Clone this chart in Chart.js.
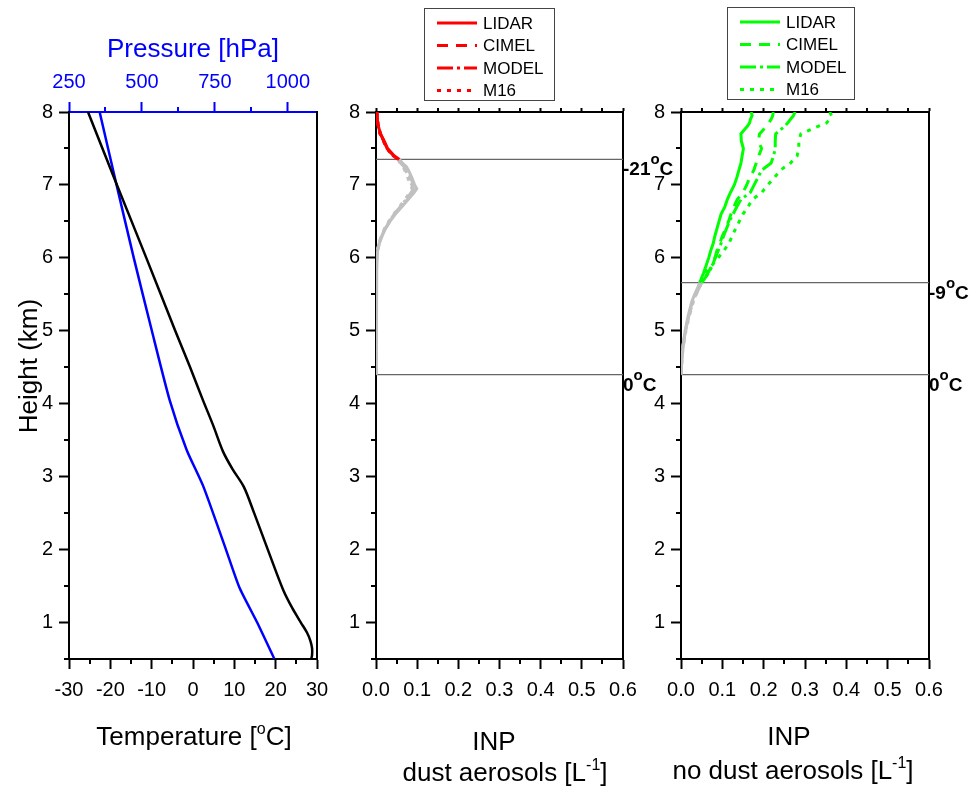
<!DOCTYPE html>
<html>
<head>
<meta charset="utf-8">
<script src="https://cdn.jsdelivr.net/npm/chart.js@4.4.1/dist/chart.umd.min.js"></script>
<style>
  html, body { margin: 0; padding: 0; background: #fff; }
  #wrap { position: relative; width: 969px; height: 789px; }
  #wrap canvas { position: absolute; left: 0; top: 0; }
</style>
</head>
<body>
<div id="wrap">
  <canvas id="profile" width="969" height="789"></canvas>
  <canvas id="dust" width="969" height="789"></canvas>
  <canvas id="nodust" width="969" height="789"></canvas>
</div>
<script>
// tick labels
const heightTicks = [1, 2, 3, 4, 5, 6, 7, 8];
const tempTicks = [-30, -20, -10, 0, 10, 20, 30];
const pressureTicks = [250, 500, 750, 1000];
const inpTicks = [0, 0.1, 0.2, 0.3, 0.4, 0.5, 0.6];

// left panel: temperature and pressure profiles
const tempHeight = [8.0, 7.0, 6.0, 5.0, 4.5, 4.05, 3.7, 3.34, 3.1, 2.86, 2.5, 2.0, 1.45, 1.2, 1.0, 0.86, 0.75, 0.65, 0.55, 0.5];
const temperature = [-25.4, -18.4, -11.3, -4.3, -0.7, 2.4, 4.9, 7.3, 9.6, 12.3, 14.8, 18.1, 21.8, 24.0, 26.1, 27.6, 28.4, 28.8, 28.8, 28.6];
const pressHeight = [8.0, 7.0, 6.0, 5.0, 4.05, 3.37, 2.86, 2.0, 1.48, 1.0, 0.5];
const pressure = [355, 413, 472, 534, 595, 653, 711, 788, 834, 895, 954];

// INP profiles, dust aerosols
const methods = ['LIDAR', 'CIMEL', 'MODEL', 'M16'];
const dustHeight = [8.0, 7.9, 7.8, 7.7, 7.6, 7.5, 7.4, 7.35, 7.3, 7.25, 7.2, 7.1, 7.0, 6.95, 6.9, 6.8, 6.7, 6.6, 6.5, 6.4, 6.3, 6.2, 6.1, 6.0, 5.8, 5.6, 5.2, 4.8, 4.4];
const dustLidar = [0.002, 0.003, 0.006, 0.011, 0.020, 0.028, 0.044, 0.057, 0.064, 0.074, 0.079, 0.087, 0.094, 0.099, 0.093, 0.078, 0.063, 0.047, 0.034, 0.023, 0.015, 0.008, 0.004, 0.002, 0.001, 0.001, 0.0005, 0.0002, 0];
const dustCimel = [0.002, 0.003, 0.006, 0.011, 0.019, 0.027, 0.043, 0.056, 0.062, 0.071, 0.076, 0.084, 0.091, 0.096, 0.090, 0.076, 0.061, 0.046, 0.033, 0.022, 0.014, 0.008, 0.004, 0.002, 0.001, 0.001, 0.0005, 0.0002, 0];
const dustModel = [0.002, 0.003, 0.006, 0.010, 0.019, 0.027, 0.042, 0.055, 0.060, 0.068, 0.072, 0.080, 0.087, 0.091, 0.086, 0.073, 0.059, 0.044, 0.032, 0.021, 0.014, 0.007, 0.004, 0.002, 0.001, 0.001, 0.0005, 0.0002, 0];
const dustM16 = [0.002, 0.003, 0.005, 0.010, 0.018, 0.026, 0.041, 0.054, 0.058, 0.065, 0.070, 0.077, 0.084, 0.088, 0.083, 0.070, 0.057, 0.043, 0.031, 0.021, 0.013, 0.007, 0.003, 0.002, 0.001, 0.0005, 0.0003, 0.0001, 0];
const dustIsoHeight = [7.35, 4.4];
const dustIsoLabel = ['-21', '0'];

// INP profiles, no dust aerosols
const noDustHeight = [8.0, 7.95, 7.9, 7.85, 7.8, 7.7, 7.6, 7.5, 7.4, 7.3, 7.2, 7.1, 7.0, 6.9, 6.8, 6.7, 6.6, 6.5, 6.4, 6.3, 6.2, 6.1, 6.0, 5.9, 5.8, 5.7, 5.66, 5.6, 5.5, 5.4, 5.2, 5.0, 4.8, 4.6, 4.4];
const noDustLidar = [0.170, 0.172, 0.168, 0.166, 0.160, 0.145, 0.146, 0.151, 0.148, 0.145, 0.140, 0.135, 0.129, 0.120, 0.112, 0.106, 0.097, 0.092, 0.087, 0.082, 0.078, 0.072, 0.067, 0.061, 0.055, 0.048, 0.045, 0.041, 0.033, 0.026, 0.017, 0.010, 0.005, 0.002, 0];
const noDustCimel = [0.223, 0.222, 0.218, 0.212, 0.206, 0.190, 0.187, 0.195, 0.188, 0.182, 0.176, 0.166, 0.159, 0.150, 0.136, 0.128, 0.121, 0.115, 0.108, 0.100, 0.094, 0.087, 0.082, 0.075, 0.066, 0.053, 0.049, 0.044, 0.035, 0.028, 0.018, 0.011, 0.005, 0.002, 0];
const noDustModel = [0.276, 0.272, 0.265, 0.258, 0.250, 0.229, 0.228, 0.228, 0.224, 0.218, 0.195, 0.186, 0.177, 0.168, 0.145, 0.135, 0.126, 0.117, 0.110, 0.103, 0.097, 0.090, 0.083, 0.076, 0.068, 0.055, 0.050, 0.045, 0.036, 0.029, 0.019, 0.011, 0.005, 0.002, 0];
const noDustM16 = [0.360, 0.364, 0.360, 0.352, 0.330, 0.290, 0.285, 0.285, 0.281, 0.265, 0.240, 0.226, 0.210, 0.196, 0.173, 0.162, 0.150, 0.141, 0.132, 0.124, 0.116, 0.104, 0.090, 0.075, 0.058, 0.051, 0.049, 0.046, 0.037, 0.030, 0.020, 0.012, 0.006, 0.002, 0];
const noDustIsoHeight = [5.66, 4.4];
const noDustIsoLabel = ['-9', '0'];

const FONT = "'Liberation Sans', Arial, Helvetica, sans-serif";
const GRAY = '#c0c0c0';
const DASHES = { LIDAR: [], CIMEL: [11, 8], MODEL: [16, 4, 3, 4], M16: [4, 6] };

function pts(xs, ys) {
    return ys.map((y, i) => ({ x: xs[i], y: y }));
}

function fixedSize(size) {
    return scale => {
        if (scale.isHorizontal()) scale.height = size;
        else scale.width = size;
    };
}

// a linear axis with major ticks taken from a list
function axis(o) {
    return {
        type: 'linear',
        position: o.position,
        min: o.min,
        max: o.max,
        afterBuildTicks: o.ticks ? (s => { s.ticks = o.ticks.map(v => ({ value: v })); }) : undefined,
        afterFit: fixedSize(o.size),
        grid: {
            display: o.tickLength > 0,
            drawOnChartArea: false,
            drawTicks: o.tickLength > 0,
            tickLength: o.tickLength || 0,
            tickWidth: 2,
            tickColor: o.color || '#000'
        },
        border: { display: true, color: o.color || '#000', width: 2 },
        ticks: {
            display: !!o.fmt,
            color: o.color || '#000',
            padding: o.pad || 0,
            font: { family: FONT, size: 20 },
            callback: o.fmt
        }
    };
}

// half-way ticks between the major ones
const minorTicks = {
    id: 'minorTicks',
    afterDraw(chart, args, opts) {
        const ctx = chart.ctx;
        (opts.axes || []).forEach(a => {
            const s = chart.scales[a.id];
            const len = a.len || 5;
            const vals = s.ticks.map(t => t.value);
            const step = vals[1] - vals[0];
            ctx.save();
            ctx.strokeStyle = s.options.border.color;
            ctx.lineWidth = 2;
            ctx.beginPath();
            for (let i = -1; i < vals.length; i++) {
                const v = vals[0] + step * (i + 0.5);
                if (v < s.min - 1e-9 || v > s.max + 1e-9) continue;
                const p = Math.round(s.getPixelForValue(v));
                if (s.isHorizontal()) {
                    const top = s.position === 'top';
                    const y = top ? s.bottom : s.top;
                    ctx.moveTo(p, y);
                    ctx.lineTo(p, y + (top ? -len : len));
                } else {
                    ctx.moveTo(s.right, p);
                    ctx.lineTo(s.right - len, p);
                }
            }
            ctx.stroke();
            ctx.restore();
        });
    }
};

// text with raised parts: parts = [[text, raised], ...]
function drawRich(ctx, parts, x, y, o) {
    const size = o.size, supSize = o.supSize || Math.round(size * 0.62);
    const weight = o.bold ? 'bold ' : '';
    ctx.save();
    ctx.fillStyle = o.color || '#000';
    ctx.textBaseline = 'alphabetic';
    ctx.textAlign = 'left';
    const widths = parts.map(([t, sup]) => {
        ctx.font = weight + (sup ? supSize : size) + 'px ' + FONT;
        return ctx.measureText(t).width;
    });
    const total = widths.reduce((a, b) => a + b, 0);
    ctx.translate(x, y);
    if (o.rotate) ctx.rotate(-Math.PI / 2);
    let cx = o.align === 'left' ? 0 : -total / 2;
    parts.forEach(([t, sup], i) => {
        ctx.font = weight + (sup ? supSize : size) + 'px ' + FONT;
        ctx.fillText(t, cx, sup ? -(o.raise || size * 0.42) : 0);
        cx += widths[i];
    });
    ctx.restore();
}

const decor = {
    id: 'decor',
    afterDraw(chart, args, opts) {
        const ctx = chart.ctx;
        (opts.titles || []).forEach(t => drawRich(ctx, t.parts, t.x, t.y, t));

        // isotherm labels at the right edge
        if (opts.iso) {
            const ys = chart.scales.y;
            opts.iso.heights.forEach((h, i) => {
                const py = ys.getPixelForValue(h);
                drawRich(ctx, [[opts.iso.labels[i], 0], ['o', 1], ['C', 0]],
                    chart.chartArea.right, py + 16,
                    { size: 19, supSize: 15, raise: 11, bold: true, align: 'left' });
            });
        }

        // framed legend with line samples
        if (opts.legend) {
            const L = opts.legend;
            ctx.save();
            ctx.strokeStyle = '#444';
            ctx.lineWidth = 1;
            ctx.strokeRect(L.x + 0.5, L.y + 0.5, L.w, L.h);
            const items = chart.data.datasets.filter(ds => methods.includes(ds.label));
            items.forEach((ds, i) => {
                const cy = L.y + 15 + i * 22.5;
                ctx.strokeStyle = ds.borderColor;
                ctx.lineWidth = 3;
                ctx.setLineDash(ds.borderDash || []);
                ctx.beginPath();
                ctx.moveTo(L.x + 13, cy);
                ctx.lineTo(L.x + 53, cy);
                ctx.stroke();
                ctx.setLineDash([]);
                ctx.fillStyle = '#000';
                ctx.font = '17px ' + FONT;
                ctx.textBaseline = 'middle';
                ctx.fillText(ds.label, L.x + 59, cy + 1);
            });
            ctx.restore();
        }
    }
};

const common = {
    responsive: false,
    animation: false,
    events: [],
    plugins: { legend: { display: false }, tooltip: { enabled: false } }
};

const fmtInt = v => String(v);
const fmtInp = v => v.toFixed(1);

// ---------- left panel ----------
new Chart(document.getElementById('profile'), {
    type: 'line',
    data: {
        datasets: [
            { label: 'Temperature', data: pts(temperature, tempHeight), xAxisID: 'x', yAxisID: 'y',
              borderColor: '#000', borderWidth: 2.5, pointRadius: 0, tension: 0.3 },
            { label: 'Pressure', data: pts(pressure, pressHeight), xAxisID: 'xp', yAxisID: 'y',
              borderColor: '#0000ff', borderWidth: 2.5, pointRadius: 0, tension: 0.2 }
        ]
    },
    options: {
        ...common,
        layout: { autoPadding: false, padding: { left: 0, right: 652, top: 0, bottom: 0 } },
        scales: {
            x: axis({ position: 'bottom', min: -30, max: 30, ticks: tempTicks, size: 130, tickLength: 10, pad: 9, fmt: fmtInt }),
            xp: axis({ position: 'top', min: 250, max: 1100, ticks: pressureTicks, size: 112, tickLength: 10, pad: 8, fmt: fmtInt, color: '#0000ff' }),
            y: axis({ position: 'left', min: 0.5, max: 8, ticks: heightTicks, size: 69, tickLength: 10, pad: 6, fmt: fmtInt }),
            yr: axis({ position: 'right', min: 0.5, max: 8, size: 0 })
        },
        plugins: {
            ...common.plugins,
            minorTicks: { axes: [{ id: 'x' }, { id: 'xp' }, { id: 'y' }] },
            decor: {
                titles: [
                    { parts: [['Temperature [', 0], ['o', 1], ['C]', 0]], x: 194, y: 745, size: 26 },
                    { parts: [['Pressure [hPa]', 0]], x: 193, y: 57, size: 26, color: '#0000ff' },
                    { parts: [['Height (km)', 0]], x: 37, y: 366, size: 26, rotate: true }
                ]
            }
        }
    },
    plugins: [minorTicks, decor]
});

// ---------- INP panels ----------
function inpChart(id, color, height, series, isoHeight, isoLabel, left, right, titles, legendBox) {
    const iso = isoHeight[0];
    const datasets = methods.map((m, k) => ({
        label: m,
        data: pts(series[k], height),
        borderColor: color,
        borderDash: DASHES[m],
        borderWidth: 3,
        pointRadius: 0,
        tension: 0,
        segment: { borderColor: c => (c.p0.parsed.y <= iso + 1e-6 ? GRAY : color) }
    }));
    isoHeight.forEach(h => datasets.push({
        label: 'iso',
        data: [{ x: inpTicks[0], y: h }, { x: inpTicks[inpTicks.length - 1], y: h }],
        borderColor: '#666',
        borderWidth: 1.3,
        pointRadius: 0
    }));
    return new Chart(document.getElementById(id), {
        type: 'line',
        data: { datasets },
        options: {
            ...common,
            layout: { autoPadding: false, padding: { left: left - 40, right: 969 - right, top: 0, bottom: 0 } },
            scales: {
                x: axis({ position: 'bottom', min: 0, max: 0.6, ticks: inpTicks, size: 130, tickLength: 10, pad: 9, fmt: fmtInp }),
                xt: axis({ position: 'top', min: 0, max: 0.6, ticks: inpTicks, size: 112, tickLength: 4 }),
                y: axis({ position: 'left', min: 0.5, max: 8, ticks: heightTicks, size: 40, tickLength: 10, pad: 6, fmt: fmtInt }),
                yr: axis({ position: 'right', min: 0.5, max: 8, size: 0 })
            },
            plugins: {
                ...common.plugins,
                minorTicks: { axes: [{ id: 'x' }, { id: 'xt', len: 4 }, { id: 'y' }] },
                decor: { titles, iso: { heights: isoHeight, labels: isoLabel }, legend: legendBox }
            }
        },
        plugins: [minorTicks, decor]
    });
}

inpChart('dust', '#ff0000', dustHeight, [dustLidar, dustCimel, dustModel, dustM16],
    dustIsoHeight, dustIsoLabel, 376, 623,
    [
        { parts: [['INP', 0]], x: 494, y: 750, size: 26 },
        { parts: [['dust aerosols [L', 0], ['-1', 1], [']', 0]], x: 505, y: 781, size: 26 }
    ],
    { x: 424, y: 8, w: 130, h: 92 });

inpChart('nodust', '#00ff00', noDustHeight, [noDustLidar, noDustCimel, noDustModel, noDustM16],
    noDustIsoHeight, noDustIsoLabel, 681, 929,
    [
        { parts: [['INP', 0]], x: 789, y: 745, size: 26 },
        { parts: [['no dust aerosols [L', 0], ['-1', 1], [']', 0]], x: 793, y: 779, size: 26 }
    ],
    { x: 727, y: 7, w: 127, h: 92 });
</script>
</body>
</html>
